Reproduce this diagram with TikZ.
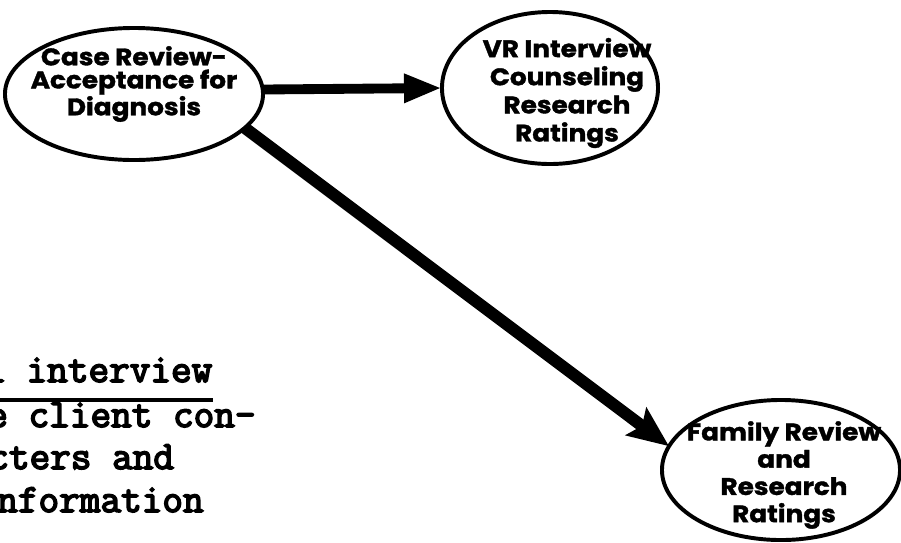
\documentclass[tikz,border=0pt]{standalone}
\usepackage{fontspec}
\usetikzlibrary{arrows.meta,shapes.geometric}
\newfontfamily\bubblefont{Poppins}[FakeStretch=1.1, FakeBold=1.5]
\newfontfamily\typefont{Latin Modern Mono}[FakeBold=4]

\tikzset{
  bubble/.style={ellipse, draw, line width=2.8pt, outer sep=0pt, inner sep=0pt},
  bubbletext/.style={align=center, inner sep=0pt, font=\bubblefont\bfseries\fontsize{17}{#1}\selectfont},
  typeline/.style={anchor=base west, inner sep=0pt, font=\typefont\fontsize{28.5}{28.5}\selectfont},
  flow/.style={line width=7pt, -{Triangle[length=27pt,width=19pt]}},
  bigflow/.style={line width=8.5pt, -{Stealth[length=29pt,width=24pt,inset=5pt]}},
}

\begin{document}
\begin{tikzpicture}[x=0.025cm, y=-0.025cm]
  \useasboundingbox (0,0) rectangle (901,542);
  \clip (0,0) rectangle (901,542);

  % the three stages
  \node[bubble, minimum width=6.45cm, minimum height=3.3cm] (review) at (134,94) {};
  \node[bubble, minimum width=5.4cm, minimum height=3.8cm] (vr) at (550,88) {};
  \node[bubble, minimum width=5.95cm, minimum height=3.5cm] (family) at (781,470) {};

  \node[bubbletext=16.4pt] (reviewtxt) at (134,84) {Case Review-\\Acceptance for\\Diagnosis};
  \node[bubbletext=20pt] (vrtxt) at (567,93) {VR Interview\\Counseling\\Research\\Ratings};
  \node[bubbletext=19.4pt] (familytxt) at (784,475) {Family Review\\and\\Research\\Ratings};

  % connectors
  \draw[flow] (review.2.7) -- (vr.180);
  \draw[bigflow] (review.-17) -- (family.168.8);

  % typed text at the left margin
  \node[typeline] (t1) at (-15,382) {l interview};
  \node[typeline] (t2) at (-13,427) {e client con-};
  \node[typeline] (t3) at (-12,469) {cters and};
  \node[typeline] (t4) at (-3,512) {nformation};
  \draw[line width=2.8pt] ([yshift=-13pt]t1.base west) -- ([yshift=-13pt]t1.base east);
\end{tikzpicture}
\end{document}
